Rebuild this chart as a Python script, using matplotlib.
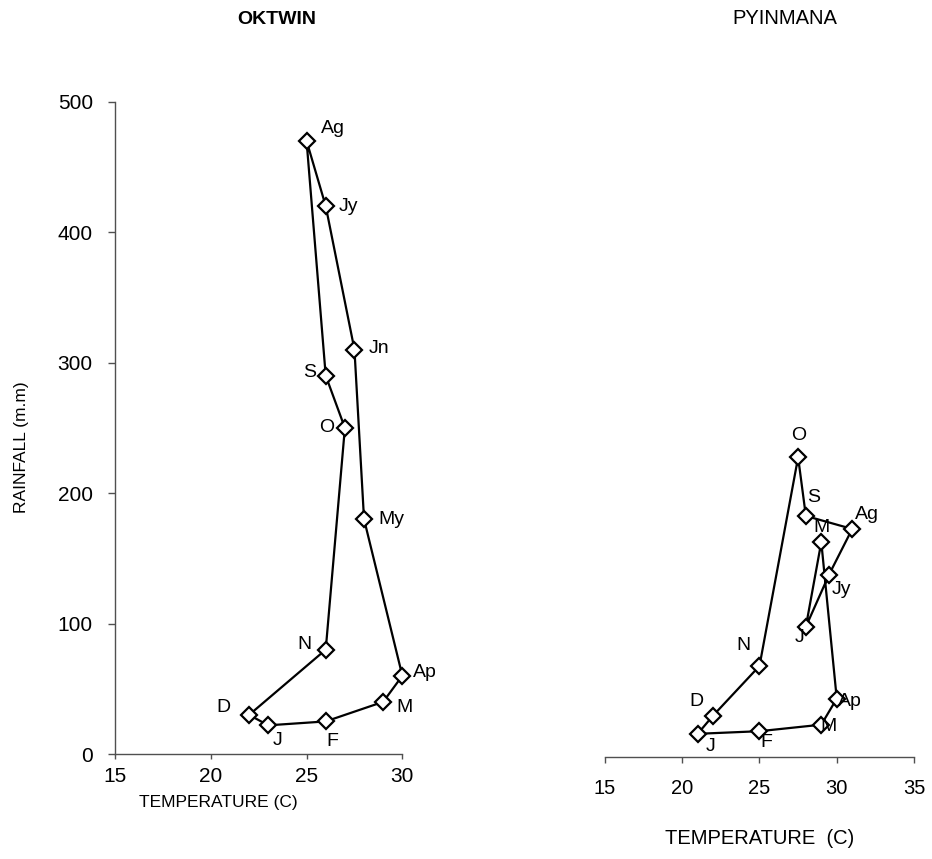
import matplotlib
matplotlib.use("Agg")
import matplotlib.pyplot as plt

plt.rcParams["font.family"] = ["Liberation Sans", "DejaVu Sans"]

# OKTWIN: monthly mean temperature (C) and rainfall (m.m), loop J..D..J
oktwin_months = ["J", "F", "M", "Ap", "My", "Jn", "Jy", "Ag", "S", "O", "N", "D"]
oktwin_temp = [23, 26, 29, 30, 28, 27.5, 26, 25, 26, 27, 26, 22]
oktwin_rain = [22, 25, 40, 60, 180, 310, 420, 470, 290, 250, 80, 30]

# PYINMANA (May and June are labelled M and J on the chart)
pyin_months = ["J", "F", "M", "Ap", "M", "J", "Jy", "Ag", "S", "O", "N", "D"]
pyin_temp = [21, 25, 29, 30, 29, 28, 29.5, 31, 28, 27.5, 25, 22]
pyin_rain = [18, 20, 25, 45, 165, 100, 140, 175, 185, 230, 70, 32]

# label offsets in pixels (x right, y up)
oktwin_offsets = [(9, -15), (7, -20), (21, -6), (23, 3), (27, 0), (25, 1),
                  (23, 0), (26, 12), (-16, 3), (-18, 0), (-21, 5), (-26, 7)]
pyin_offsets = [(13, -13), (7, -11), (7, -2), (13, -3), (0, 15), (-6, -11),
                (12, -15), (15, 14), (8, 18), (1, 22), (-16, 20), (-17, 14)]

fig = plt.figure(figsize=(9.32, 8.59), dpi=100)
ax1 = fig.add_axes([0.1234, 0.1222, 0.3083, 0.7594])
ax2 = fig.add_axes([0.6491, 0.1184, 0.3316, 0.7594])

axis_color = "#505050"


def draw_loop(ax, temps, rains, months, offsets):
    xs = temps + temps[:1]
    ys = rains + rains[:1]
    ax.plot(xs, ys, color="black", lw=1.6, zorder=2, clip_on=False)
    ax.plot(temps, rains, linestyle="none", marker="D", markersize=8,
            markerfacecolor="white", markeredgecolor="black",
            markeredgewidth=1.6, zorder=3, clip_on=False)
    for t, r, m, off in zip(temps, rains, months, offsets):
        ax.annotate(m, (t, r), xytext=off, textcoords="offset pixels",
                    ha="center", va="center", fontsize=14, zorder=4)


draw_loop(ax1, oktwin_temp, oktwin_rain, oktwin_months, oktwin_offsets)
draw_loop(ax2, pyin_temp, pyin_rain, pyin_months, pyin_offsets)

# left panel
ax1.set_xlim(15, 30)
ax1.set_ylim(0, 500)
ax1.set_xticks([15, 20, 25, 30])
ax1.set_yticks([0, 100, 200, 300, 400, 500])
for s in ["top", "right"]:
    ax1.spines[s].set_visible(False)
for s in ["left", "bottom"]:
    ax1.spines[s].set_color(axis_color)
    ax1.spines[s].set_linewidth(1.0)
ax1.tick_params(axis="y", direction="out", length=5, width=1.0,
                color=axis_color, labelsize=15, pad=11)
ax1.tick_params(axis="x", direction="out", length=3.5, width=1.0,
                color=axis_color, labelsize=15, pad=6)
ax1.set_xlabel("TEMPERATURE (C)", fontsize=12.5, va="center")
ax1.xaxis.set_label_coords(0.358, -0.074)
ax1.set_ylabel("RAINFALL (m.m)", fontsize=12.5, va="center")
ax1.yaxis.set_label_coords(-0.324, 0.47)

# right panel
ax2.set_xlim(15, 35)
ax2.set_ylim(0, 500)
ax2.set_xticks([15, 20, 25, 30, 35])
ax2.set_yticks([])
for s in ["top", "right", "left"]:
    ax2.spines[s].set_visible(False)
ax2.spines["bottom"].set_color(axis_color)
ax2.spines["bottom"].set_linewidth(1.0)
ax2.tick_params(axis="x", direction="out", length=4.5, width=1.0,
                color=axis_color, labelsize=14.5, pad=11)
ax2.set_xlabel("TEMPERATURE  (C)", fontsize=14.5, va="center")
ax2.xaxis.set_label_coords(0.5016, -0.125)

fig.text(277 / 932, 1 - 20 / 859, "OKTWIN", fontsize=14, fontweight="bold",
         ha="center", va="center")
fig.text(785 / 932, 1 - 18 / 859, "PYINMANA", fontsize=14.5,
         ha="center", va="center")

fig.savefig("out.png", dpi=100)
